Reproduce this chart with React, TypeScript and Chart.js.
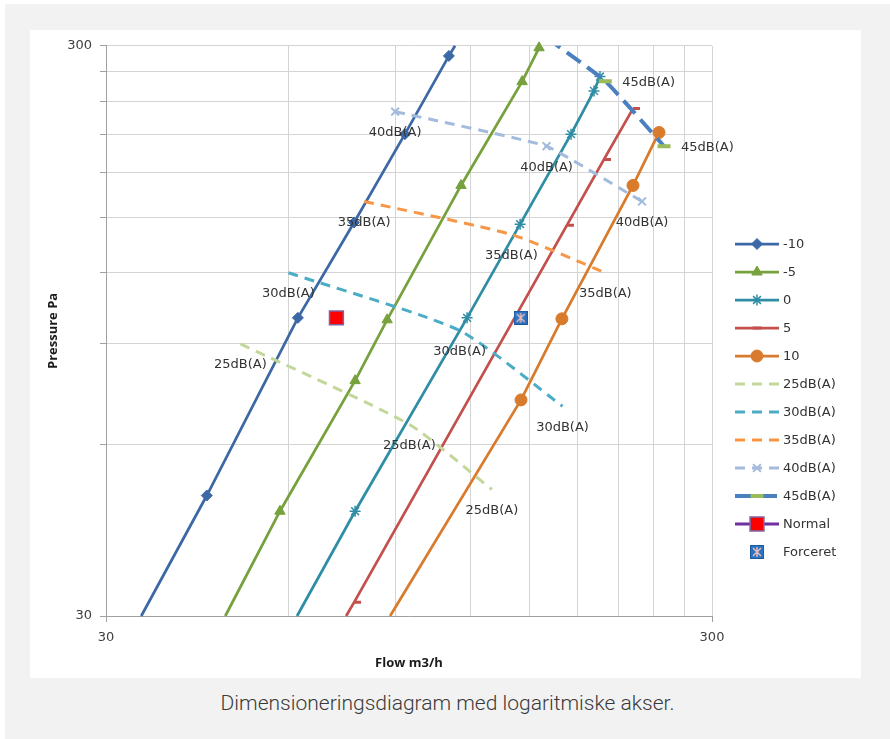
import React, { useEffect, useRef } from 'react';
import { Chart, registerables } from 'chart.js';
import { drawPoint } from 'chart.js/helpers';

Chart.register(...registerables);

const FONT = '"DejaVu Sans", sans-serif';

// Log axes: labels only at the decade ends, grid every 30
const gridValues = [30, 60, 90, 120, 150, 180, 210, 240, 270, 300];
const labeledValues = [30, 300];

// Fan curves: flow (m3/h), pressure (Pa), and which points carry a marker
const curveM10Flow = [34.3, 44.0, 62.2, 77.0, 93.4, 110.4, 113.0];
const curveM10Pressure = [30, 48.8, 100, 147, 210, 288, 300];
const curveM10Marker = [0, 1, 1, 1, 1, 1, 0];

const curveM5Flow = [47.2, 58.1, 77.3, 87.3, 115.6, 145.8, 155.5];
const curveM5Pressure = [30, 45.8, 77.6, 99.2, 170.7, 259.6, 297.6];
const curveM5Marker = [0, 1, 1, 1, 1, 1, 1];

const curve0Flow = [62.0, 77.3, 118.3, 144.7, 175.6, 191.6, 196.0];
const curve0Pressure = [30, 45.8, 100, 146, 210, 250, 265];
const curve0Marker = [0, 1, 1, 1, 1, 1, 1];

const curveP5Flow = [74.7, 77.0, 172.9, 199.0, 222.2];
const curveP5Pressure = [30, 31.7, 145.4, 189.6, 232.8];
const curveP5Marker = [0, 1, 1, 1, 1];

const curveP10Flow = [88.3, 145.2, 169.6, 222.2, 245.3];
const curveP10Pressure = [30, 71.8, 99.6, 170.7, 211.4];
const curveP10Marker = [0, 1, 1, 1, 1];

// Iso-noise lines
const noise25Flow = [50, 95, 130];
const noise25Pressure = [90, 65, 50];
const noise30Flow = [60, 115, 170];
const noise30Pressure = [120, 95, 70];
const noise35Flow = [80, 140, 200];
const noise35Pressure = [160, 140, 120];
const noise40Flow = [90, 160, 230];
const noise40Pressure = [230, 200, 160];
const noise45Flow = [160, 200, 250];
const noise45Pressure = [310, 260, 200];

// Operating points
const normalFlow = [72];
const normalPressure = [100];
const forceretFlow = [145];
const forceretPressure = [100];

const CANVAS_W = 831;
const CANVAS_H = 648;

const zip = (xs: number[], ys: number[]) => xs.map((x, i) => ({ x, y: ys[i] }));

function makeForceretMarker(): HTMLCanvasElement {
  const c = document.createElement('canvas');
  c.width = 14;
  c.height = 14;
  const g = c.getContext('2d') as CanvasRenderingContext2D;
  g.fillStyle = '#2c73c4';
  g.fillRect(0, 0, 14, 14);
  g.strokeStyle = '#1d5aa0';
  g.lineWidth = 1;
  g.strokeRect(0.5, 0.5, 13, 13);
  g.strokeStyle = '#efbdb6';
  g.lineWidth = 1.4;
  g.beginPath();
  g.moveTo(7, 2);
  g.lineTo(7, 12);
  g.moveTo(3, 3);
  g.lineTo(11, 11);
  g.moveTo(11, 3);
  g.lineTo(3, 11);
  g.stroke();
  return c;
}

function fanCurve(label: string, flow: number[], pressure: number[], marker: number[], color: string, style: any, radius: number, pbw: number) {
  return {
    label,
    data: zip(flow, pressure),
    borderColor: color,
    backgroundColor: color,
    borderWidth: 2.75,
    pointStyle: style,
    pointRadius: marker.map((m) => (m ? radius : 0)),
    pointBackgroundColor: color,
    pointBorderColor: color,
    pointBorderWidth: pbw,
    markerRadius: radius,
    tension: 0,
    clip: 6,
  };
}

function noiseLine(label: string, flow: number[], pressure: number[], color: string, width: number, dash: number[], extra: any = {}) {
  return {
    label,
    data: zip(flow, pressure),
    borderColor: color,
    backgroundColor: color,
    borderWidth: width,
    borderDash: dash,
    pointRadius: 0,
    markerRadius: 0,
    tension: 0.2,
    capBezierPoints: false,
    clip: 0,
    labelPlacement: 'below',
    ...extra,
  };
}

export default function App() {
  const ref = useRef<HTMLCanvasElement | null>(null);

  useEffect(() => {
    const canvas = ref.current;
    if (!canvas) return;
    const forceretMarker = makeForceretMarker();

    const datasets: any[] = [
      fanCurve('-10', curveM10Flow, curveM10Pressure, curveM10Marker, '#3c69a6', 'rectRot', 5.5, 1),
      fanCurve('-5', curveM5Flow, curveM5Pressure, curveM5Marker, '#77a13d', 'triangle', 6, 1),
      fanCurve('0', curve0Flow, curve0Pressure, curve0Marker, '#2f8ea5', 'star', 5.5, 1.5),
      fanCurve('5', curveP5Flow, curveP5Pressure, curveP5Marker, '#c3504c', 'dash', 7, 3),
      fanCurve('10', curveP10Flow, curveP10Pressure, curveP10Marker, '#d97b2c', 'circle', 6, 1),
      noiseLine('25dB(A)', noise25Flow, noise25Pressure, '#c4d79b', 3, [10, 7]),
      noiseLine('30dB(A)', noise30Flow, noise30Pressure, '#4bacc6', 3, [10, 7]),
      noiseLine('35dB(A)', noise35Flow, noise35Pressure, '#f79646', 3, [10, 7]),
      noiseLine('40dB(A)', noise40Flow, noise40Pressure, '#a3bbdc', 3, [10, 7], {
        pointStyle: 'crossRot',
        pointRadius: 5.5,
        markerRadius: 5.5,
        pointBorderWidth: 2,
        pointBorderColor: '#a3bbdc',
        pointBackgroundColor: '#a3bbdc',
        tension: 0.1,
      }),
      noiseLine('45dB(A)', noise45Flow, noise45Pressure, '#4a7fc0', 4, [17, 8], {
        pointStyle: 'line',
        pointRadius: 6.5,
        markerRadius: 6.5,
        pointBorderWidth: 4,
        pointBorderColor: '#9bbb59',
        pointBackgroundColor: '#9bbb59',
        labelPlacement: 'right',
        tension: 0.15,
      }),
      {
        label: 'Normal',
        data: zip(normalFlow, normalPressure),
        borderColor: '#7030a0',
        borderWidth: 3,
        pointStyle: 'rect',
        pointRadius: 9.8,
        markerRadius: 9.8,
        pointBackgroundColor: '#ff0000',
        pointBorderColor: '#8064a2',
        pointBorderWidth: 1.5,
        clip: 10,
      },
      {
        label: 'Forceret',
        data: zip(forceretFlow, forceretPressure),
        borderColor: '#2c73c4',
        borderWidth: 0,
        showLine: false,
        pointStyle: forceretMarker,
        pointRadius: 7,
        markerRadius: 7,
        clip: 10,
      },
    ];
    // later series are painted on top
    datasets.forEach((ds, i) => (ds.order = datasets.length - i));

    const noiseLabels = {
      id: 'noiseLabels',
      afterDatasetsDraw(chart: any) {
        const { ctx, chartArea } = chart;
        ctx.save();
        ctx.font = `13px ${FONT}`;
        ctx.fillStyle = '#333333';
        chart.data.datasets.forEach((ds: any, i: number) => {
          if (!ds.labelPlacement) return;
          const meta = chart.getDatasetMeta(i);
          meta.data.forEach((pt: any) => {
            if (pt.x < chartArea.left - 1 || pt.x > chartArea.right + 1 || pt.y < chartArea.top - 1 || pt.y > chartArea.bottom + 1) return;
            if (ds.labelPlacement === 'right') {
              ctx.textAlign = 'left';
              ctx.textBaseline = 'middle';
              ctx.fillText(ds.label, pt.x + 17, pt.y + 1);
            } else {
              ctx.textAlign = 'center';
              ctx.textBaseline = 'middle';
              ctx.fillText(ds.label, pt.x, pt.y + 21);
            }
          });
        });
        ctx.restore();
      },
    };

    const sideLegend = {
      id: 'sideLegend',
      afterDraw(chart: any) {
        const ctx = chart.ctx;
        const x0 = 705;
        const len = 44;
        const top = 214;
        const step = 28;
        chart.data.datasets.forEach((ds: any, i: number) => {
          const y = top + i * step;
          ctx.save();
          if (ds.showLine !== false && ds.borderWidth > 0) {
            ctx.strokeStyle = ds.borderColor;
            ctx.lineWidth = ds.borderWidth;
            ctx.lineCap = 'butt';
            ctx.setLineDash(ds.borderDash || []);
            ctx.beginPath();
            ctx.moveTo(x0, y);
            ctx.lineTo(x0 + len, y);
            ctx.stroke();
          }
          ctx.setLineDash([]);
          if (ds.markerRadius > 0) {
            ctx.fillStyle = ds.pointBackgroundColor || ds.borderColor;
            ctx.strokeStyle = ds.pointBorderColor || ds.borderColor;
            ctx.lineWidth = ds.pointBorderWidth || 1;
            const style = ds.pointStyle === 'dash' ? 'line' : ds.pointStyle;
            const radius = ds.pointStyle === 'dash' ? 4.5 : ds.markerRadius;
            drawPoint(ctx, { pointStyle: style, radius, borderWidth: ctx.lineWidth, rotation: 0 } as any, x0 + len / 2, y);
          }
          ctx.fillStyle = '#333333';
          ctx.font = `13px ${FONT}`;
          ctx.textAlign = 'left';
          ctx.textBaseline = 'middle';
          ctx.fillText(ds.label, x0 + len + 4, y + 1);
          ctx.restore();
        });
      },
    };

    const axisTitles = {
      id: 'axisTitles',
      afterDraw(chart: any) {
        const { ctx, chartArea } = chart;
        ctx.save();
        ctx.fillStyle = '#1a1a1a';
        ctx.font = `bold 13px "Open Sans", sans-serif`;
        ctx.textAlign = 'center';
        ctx.textBaseline = 'middle';
        ctx.fillText('Flow m3/h', (chartArea.left + chartArea.right) / 2, 633);
        ctx.translate(23, (chartArea.top + chartArea.bottom) / 2);
        ctx.rotate(-Math.PI / 2);
        ctx.fillText('Pressure Pa', 0, 0);
        ctx.restore();
      },
    };

    const axisCommon = (fitSide: 'width' | 'height', size: number, minorTicks: boolean) => ({
      type: 'logarithmic' as const,
      min: 30,
      max: 300,
      afterBuildTicks: (scale: any) => {
        scale.ticks = gridValues.map((v) => ({ value: v }));
      },
      afterFit: (scale: any) => {
        scale[fitSide] = size;
      },
      ticks: {
        autoSkip: false,
        maxRotation: 0,
        padding: 8,
        color: '#404040',
        font: { family: FONT, size: 13 },
        callback: (v: any) => (labeledValues.includes(Number(v)) ? String(v) : ''),
      },
      grid: {
        color: '#d4d4d4',
        lineWidth: 1,
        drawTicks: true,
        tickLength: 6,
        tickColor: (c: any) =>
          minorTicks || (c.tick && labeledValues.includes(c.tick.value)) ? '#a0a0a0' : 'rgba(0,0,0,0)',
      },
      border: { color: '#a0a0a0', width: 1 },
    });

    const chart = new Chart(canvas, {
      type: 'line',
      data: { datasets },
      options: {
        animation: false,
        responsive: false,
        devicePixelRatio: 1,
        events: [],
        layout: { padding: { left: 0, top: 14, right: CANVAS_W - 682, bottom: 0 } },
        plugins: {
          legend: { display: false },
          tooltip: { enabled: false },
        },
        scales: {
          x: axisCommon('height', 62, false),
          y: axisCommon('width', 76, true),
        },
      } as any,
      plugins: [noiseLabels, sideLegend, axisTitles],
    });

    return () => chart.destroy();
  }, []);

  return (
    <div style={{ position: 'absolute', left: 0, top: 0, width: 890, height: 739, background: '#ffffff', overflow: 'hidden' }}>
      <div style={{ position: 'absolute', left: 5, top: 4, width: 885, height: 735, background: '#f2f2f2' }} />
      <div style={{ position: 'absolute', left: 30, top: 30, width: CANVAS_W, height: CANVAS_H, background: '#ffffff' }}>
        <canvas ref={ref} width={CANVAS_W} height={CANVAS_H} style={{ display: 'block', width: CANVAS_W, height: CANVAS_H }} />
      </div>
      <div
        style={{
          position: 'absolute',
          left: 5,
          width: 885,
          top: 691,
          textAlign: 'center',
          fontFamily: 'Roboto, sans-serif',
          fontWeight: 300,
          fontSize: 21,
          lineHeight: '24px',
          color: '#3a3a3a',
        }}
      >
        Dimensioneringsdiagram med logaritmiske akser.
      </div>
    </div>
  );
}
